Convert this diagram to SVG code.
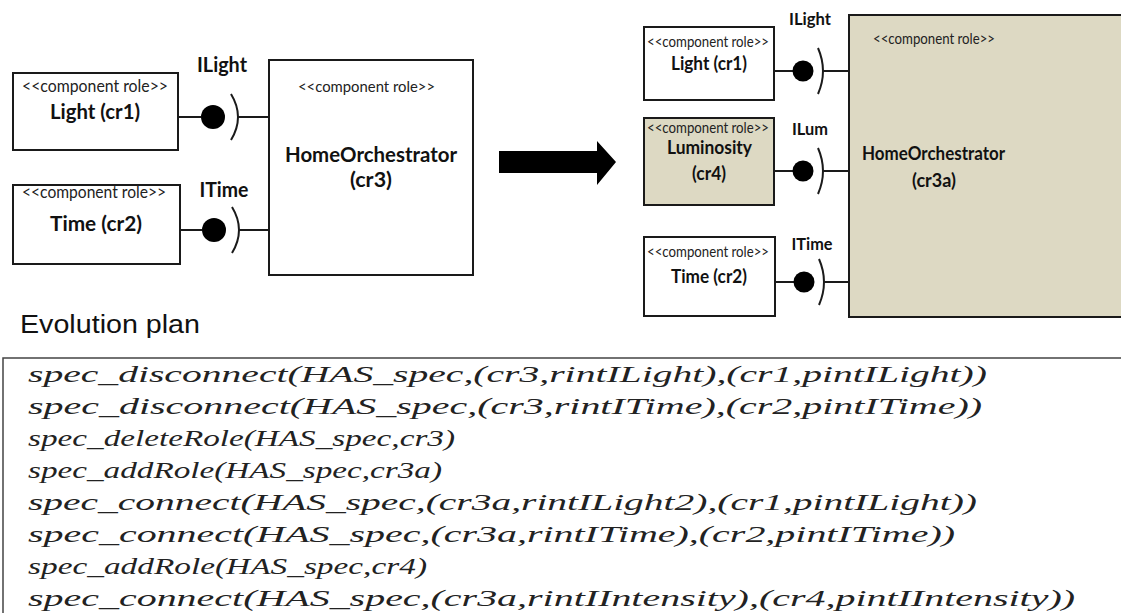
<svg xmlns="http://www.w3.org/2000/svg" width="1121" height="613" viewBox="0 0 1121 613">
<style>
.box{fill:#fff;stroke:#1a1a1a;stroke-width:2}
.tan{fill:#ddd9c3;stroke:#1a1a1a;stroke-width:2}
.st{font-family:Lato,"Liberation Sans",sans-serif;fill:#222;text-anchor:middle}
.lb{font-family:Lato,"Liberation Sans",sans-serif;font-weight:bold;fill:#111;text-anchor:middle}
.ln{stroke:#1a1a1a;stroke-width:2;fill:none}
.ball{fill:#000}
.math{font-family:"Liberation Serif",serif;font-style:italic;font-size:24px;fill:#222}
</style>
<rect width="1121" height="613" fill="#fff"/>

<g id="connectors">
  <line class="ln" x1="178" y1="117" x2="201" y2="117"/>
  <path class="ln" d="M231 94 Q245 117 231 140"/>
  <line class="ln" x1="238" y1="117" x2="269" y2="117"/>
  <line class="ln" x1="180" y1="230" x2="202" y2="230"/>
  <path class="ln" d="M232 207 Q246 230 232 253"/>
  <line class="ln" x1="239" y1="230" x2="269" y2="230"/>
  <line class="ln" x1="774" y1="71" x2="793" y2="71"/>
  <path class="ln" d="M818 48 Q828 71 818 94"/>
  <line class="ln" x1="823" y1="71" x2="849" y2="71"/>
  <line class="ln" x1="774" y1="171" x2="793" y2="171"/>
  <path class="ln" d="M818 148 Q828 171 818 194"/>
  <line class="ln" x1="823" y1="171" x2="849" y2="171"/>
  <line class="ln" x1="775" y1="282" x2="794" y2="282"/>
  <path class="ln" d="M819 259 Q829 282 819 305"/>
  <line class="ln" x1="824" y1="282" x2="849" y2="282"/>
  <circle class="ball" cx="213" cy="117" r="12"/>
  <circle class="ball" cx="214" cy="230" r="12"/>
  <circle class="ball" cx="803" cy="71" r="10.5"/>
  <circle class="ball" cx="803" cy="171" r="10.5"/>
  <circle class="ball" cx="804" cy="282" r="10.5"/>
  <text class="lb" x="222" y="72" font-size="20" textLength="50" lengthAdjust="spacingAndGlyphs">ILight</text>
  <text class="lb" x="224" y="197" font-size="20" textLength="49" lengthAdjust="spacingAndGlyphs">ITime</text>
  <text class="lb" x="810" y="25" font-size="17" textLength="42" lengthAdjust="spacingAndGlyphs">ILight</text>
  <text class="lb" x="810" y="135" font-size="17" textLength="36" lengthAdjust="spacingAndGlyphs">ILum</text>
  <text class="lb" x="812" y="250" font-size="17" textLength="41" lengthAdjust="spacingAndGlyphs">ITime</text>
</g>

<g id="cr1-left">
  <rect class="box" x="13" y="73" width="165" height="77"/>
  <text class="st" x="95" y="92" font-size="17" textLength="146" lengthAdjust="spacingAndGlyphs">&lt;&lt;component role&gt;&gt;</text>
  <text class="lb" x="95" y="119" font-size="20" textLength="90" lengthAdjust="spacingAndGlyphs">Light (cr1)</text>
</g>
<g id="cr2-left">
  <rect class="box" x="13" y="185" width="167" height="79"/>
  <text class="st" x="94" y="198" font-size="17" textLength="144" lengthAdjust="spacingAndGlyphs">&lt;&lt;component role&gt;&gt;</text>
  <text class="lb" x="96" y="231" font-size="20" textLength="92" lengthAdjust="spacingAndGlyphs">Time (cr2)</text>
</g>
<g id="cr3-left">
  <rect class="box" x="269" y="60" width="204" height="215"/>
  <text class="st" x="366.5" y="92" font-size="16" textLength="137" lengthAdjust="spacingAndGlyphs">&lt;&lt;component role&gt;&gt;</text>
  <text class="lb" x="371" y="162" font-size="21" textLength="172" lengthAdjust="spacingAndGlyphs">HomeOrchestrator</text>
  <text class="lb" x="371" y="187" font-size="21" textLength="42" lengthAdjust="spacingAndGlyphs">(cr3)</text>
</g>

<g id="arrow">
  <polygon points="499,151 597,151 597,141 616,162 597,185 597,173 499,173" fill="#000"/>
</g>

<g id="cr3a-right">
  <rect class="tan" x="849" y="15" width="280" height="302"/>
  <text class="st" x="934" y="44" font-size="15" textLength="122" lengthAdjust="spacingAndGlyphs">&lt;&lt;component role&gt;&gt;</text>
  <text class="lb" x="933.5" y="160" font-size="18" textLength="143" lengthAdjust="spacingAndGlyphs">HomeOrchestrator</text>
  <text class="lb" x="934" y="187" font-size="18" textLength="44" lengthAdjust="spacingAndGlyphs">(cr3a)</text>
</g>
<g id="cr1-right">
  <rect class="box" x="644" y="27" width="130" height="73"/>
  <text class="st" x="708" y="47" font-size="15" textLength="122" lengthAdjust="spacingAndGlyphs">&lt;&lt;component role&gt;&gt;</text>
  <text class="lb" x="709" y="70" font-size="18" textLength="76" lengthAdjust="spacingAndGlyphs">Light (cr1)</text>
</g>
<g id="cr4-right">
  <rect class="tan" x="644" y="118" width="130" height="87"/>
  <text class="st" x="708" y="132.5" font-size="15" textLength="122" lengthAdjust="spacingAndGlyphs">&lt;&lt;component role&gt;&gt;</text>
  <text class="lb" x="709.5" y="154" font-size="18" textLength="85" lengthAdjust="spacingAndGlyphs">Luminosity</text>
  <text class="lb" x="709" y="180" font-size="18" textLength="34" lengthAdjust="spacingAndGlyphs">(cr4)</text>
</g>
<g id="cr2-right">
  <rect class="box" x="644" y="237" width="131" height="79"/>
  <text class="st" x="708" y="256.5" font-size="15" textLength="122" lengthAdjust="spacingAndGlyphs">&lt;&lt;component role&gt;&gt;</text>
  <text class="lb" x="709" y="283" font-size="18" textLength="76" lengthAdjust="spacingAndGlyphs">Time (cr2)</text>
</g>

<text x="20" y="333" font-family="'Liberation Sans',Arial,sans-serif" font-size="26" fill="#111" textLength="180" lengthAdjust="spacingAndGlyphs">Evolution plan</text>

<g id="plan">
  <rect x="3" y="358" width="1130" height="270" fill="#fff" stroke="#444" stroke-width="1.5"/>
  <text class="math" x="28" y="381.5" textLength="959" lengthAdjust="spacingAndGlyphs">spec_disconnect(HAS_spec,(cr3,rintILight),(cr1,pintILight))</text>
  <text class="math" x="28" y="413.5" textLength="954" lengthAdjust="spacingAndGlyphs">spec_disconnect(HAS_spec,(cr3,rintITime),(cr2,pintITime))</text>
  <text class="math" x="28" y="445.5" textLength="427" lengthAdjust="spacingAndGlyphs">spec_deleteRole(HAS_spec,cr3)</text>
  <text class="math" x="28" y="477.5" textLength="414" lengthAdjust="spacingAndGlyphs">spec_addRole(HAS_spec,cr3a)</text>
  <text class="math" x="28" y="509.5" textLength="949" lengthAdjust="spacingAndGlyphs">spec_connect(HAS_spec,(cr3a,rintILight2),(cr1,pintILight))</text>
  <text class="math" x="28" y="541.5" textLength="927" lengthAdjust="spacingAndGlyphs">spec_connect(HAS_spec,(cr3a,rintITime),(cr2,pintITime))</text>
  <text class="math" x="28" y="573.5" textLength="399" lengthAdjust="spacingAndGlyphs">spec_addRole(HAS_spec,cr4)</text>
  <text class="math" x="28" y="605.5" textLength="1047" lengthAdjust="spacingAndGlyphs">spec_connect(HAS_spec,(cr3a,rintIIntensity),(cr4,pintIIntensity))</text>
</g>
</svg>
